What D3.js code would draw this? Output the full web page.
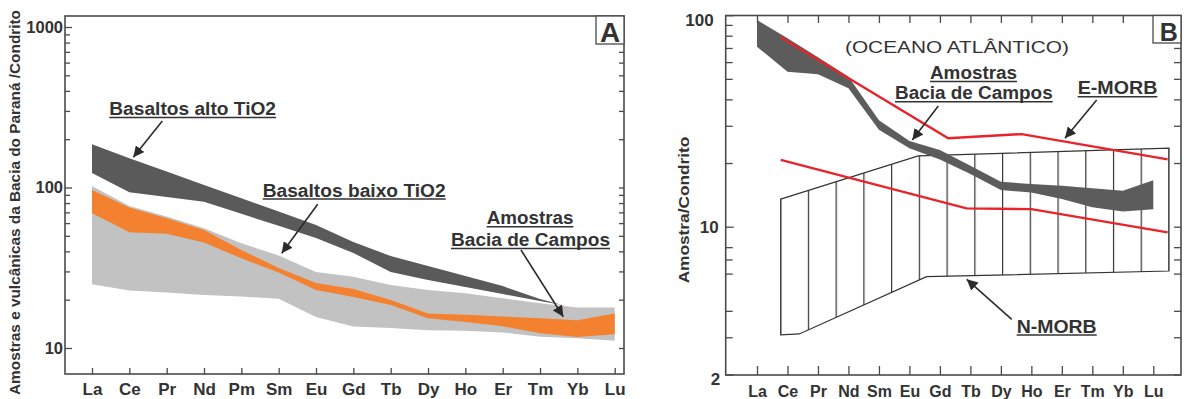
<!DOCTYPE html>
<html><head><meta charset="utf-8">
<script src="https://cdn.jsdelivr.net/npm/d3@7"></script>
<style>
body{margin:0;background:#fff}
svg{display:block}
text{font-family:"Liberation Sans",Arial,Helvetica,sans-serif;fill:#333}
</style></head>
<body><svg id="chart" width="1187" height="399"></svg>
<script>
// ---------------- DATA ----------------
const reeA = ["La","Ce","Pr","Nd","Pm","Sm","Eu","Gd","Tb","Dy","Ho","Er","Tm","Yb","Lu"];
const reeB = ["La","Ce","Pr","Nd","Sm","Eu","Gd","Tb","Dy","Ho","Er","Tm","Yb","Lu"];

const yMajorA = [10,100,1000];
const yMinorA = [20,30,40,50,60,70,80,90,200,300,400,500,600,700,800,900];
const yMajorB = [2,10,100];
const yMinorB = [3,4,6,7,8,20,30,40,50,60,70,80,90];

// Panel A – Basaltos baixo TiO2 (light grey field), values per reeA
const baixoTop    = [102,76.7,66,55.7,44.9,37.7,29.8,27.8,24.7,23.0,21.9,20.4,19.0,17.9,17.9];
const baixoBottom = [25.0,22.8,22.2,21.4,20.9,20.3,15.6,13.6,13.3,12.9,12.8,12.5,11.75,11.5,11.1];
// Panel A – Amostras Bacia de Campos (orange field)
const camposATop    = [96.4,75.0,64.3,54.3,40.8,31.5,25.4,23.3,19.9,16.4,16.1,15.7,15.3,14.9,16.4];
const camposABottom = [69.0,52.6,51.5,45.4,36.2,29.5,23.0,20.8,18.5,15.3,14.5,13.65,12.35,11.7,12.2];
// Panel A – Basaltos alto TiO2 (dark field), La..Tm, closing at a tip between Tm and Yb
const altoTop    = [185.8,152,125.6,103.7,85.7,70.8,58.4,45.7,37.4,32.4,28.1,24.3,20.2];
const altoBottom = [123,93.3,87.3,81.6,68.5,57.7,48.4,39.1,29.8,26.5,24.0,21.7,19.6];
const altoTip = [12.6, 18.5];

// Panel B – Amostras Bacia de Campos (dark field), values per reeB
const camposBTop    = [94.9,77.8,63.2,51.2,31.9,25.4,23.05,19.4,16.3,15.9,15.6,15.2,14.8,16.6];
const camposBBottom = [71.0,54.0,52.6,45.1,28.7,23.5,20.8,17.75,14.9,14.5,13.5,12.35,11.8,12.1];

// Panel B – MORB references: [position on 15-REE scale (La=0 … Lu=14), value]
const eMorb = [[0,78.6],[6.04,26.2],[8.69,27.4],[13.95,20.8]];
const nMorbLine = [[0,20.7],[6.7,12.2],[9.04,12.1],[13.95,9.4]];
const nMorbFieldTop = [[0,13.5],[4.96,21.6],[14,23.5]];
const nMorbFieldBottom = [[0,3.08],[0.67,3.11],[5.26,5.8],[14,6.17]];

// ---------------- DRAW ----------------
const svg = d3.select("#chart");
const frameColor = "#4a4a4a";
const textColor = "#333";

const defs = svg.append("defs");
defs.append("marker").attr("id","arrow").attr("viewBox","0 0 10 10")
  .attr("refX",10).attr("refY",5).attr("markerWidth",11).attr("markerHeight",11)
  .attr("markerUnits","userSpaceOnUse").attr("orient","auto")
  .append("path").attr("d","M0,0 L10,5 L0,10 Z").attr("fill","#2b2b2b");

function label(g, txt, x, y, size, width, opts={}) {
  const t = g.append("text").attr("x",x).attr("y",y)
    .attr("font-size",size).attr("font-weight",opts.normal?"normal":"bold").text(txt);
  if (width) t.attr("textLength",width).attr("lengthAdjust","spacingAndGlyphs");
  if (opts.underline) {
    g.append("line").attr("x1",x).attr("x2",x+width)
      .attr("y1",y+2.4).attr("y2",y+2.4).attr("stroke",textColor).attr("stroke-width",1.5);
  }
  return t;
}
function arrow(g, x1,y1,x2,y2){
  g.append("line").attr("x1",x1).attr("y1",y1).attr("x2",x2).attr("y2",y2)
    .attr("stroke","#2b2b2b").attr("stroke-width",1.6).attr("marker-end","url(#arrow)");
}

// ===== Panel A =====
const A = {l:65, r:624, t:16, b:374};
const xA = d3.scaleLinear().domain([0,14]).range([92,614.7]);
const yA = d3.scaleLog().domain([10,1000]).range([348,27]);
const gA = svg.append("g");

const areaA = d3.area().x((d,i)=>xA(i)).y0(d=>yA(d[0])).y1(d=>yA(d[1]));
gA.append("path").attr("d",areaA(baixoTop.map((v,i)=>[baixoBottom[i],v]))).attr("fill","#c2c2c2");
gA.append("path").attr("d",areaA(camposATop.map((v,i)=>[camposABottom[i],v]))).attr("fill","#f3812f");
const altoPoly = altoTop.map((v,i)=>[i,v]).concat([altoTip]).concat(altoBottom.map((v,i)=>[i,v]).reverse());
const lineA = d3.line().x(d=>xA(d[0])).y(d=>yA(d[1]));
gA.append("path").attr("d",lineA(altoPoly)+"Z").attr("fill","#5a5a5a");

// axes A
const axA = gA.append("g").attr("transform",`translate(0,${A.b})`)
  .call(d3.axisBottom(xA).tickValues(d3.range(15)).tickFormat(i=>reeA[i]).tickSize(-6).tickPadding(9));
axA.selectAll("text").attr("font-size",17).attr("font-weight","bold").attr("font-family",null).attr("fill",textColor);
const ayA = gA.append("g").attr("transform",`translate(${A.l},0)`)
  .call(d3.axisLeft(yA).tickValues(yMajorA).tickFormat(d3.format("d")).tickSize(-7).tickPadding(2));
ayA.selectAll("text").attr("font-size",16.5).attr("font-weight","bold").attr("font-family",null).attr("fill",textColor);
gA.append("g").attr("transform",`translate(${A.l},0)`)
  .call(d3.axisLeft(yA).tickValues(yMinorA).tickFormat("").tickSize(-5));
gA.append("g").attr("transform",`translate(${A.r},0)`)
  .call(d3.axisRight(yA).tickValues(yMajorA.concat(yMinorA)).tickFormat("").tickSize(-5));
gA.selectAll(".domain").remove();
gA.selectAll(".tick line").attr("stroke",frameColor).attr("stroke-width",1.3);
gA.append("rect").attr("x",A.l).attr("y",A.t).attr("width",A.r-A.l).attr("height",A.b-A.t)
  .attr("fill","none").attr("stroke",frameColor).attr("stroke-width",1.6);
gA.append("rect").attr("x",596).attr("y",A.t).attr("width",A.r-596).attr("height",28)
  .attr("fill","#fff").attr("stroke",frameColor).attr("stroke-width",1.3);
label(gA,"A",610,41.5,28,null).attr("text-anchor","middle");

label(gA,"Basaltos alto TiO2",109.3,115,18,166.7,{underline:true});
label(gA,"Basaltos baixo TiO2",262.7,196.7,18,183,{underline:true});
label(gA,"Amostras",486.7,224.3,18,86.7,{underline:true});
label(gA,"Bacia de Campos",451,246,18,159,{underline:true});
arrow(gA,162.3,121,133.3,157.3);
arrow(gA,317.7,204.3,281.7,253.3);
arrow(gA,521,250,563.3,316.7);

svg.append("text").attr("transform","translate(20,202.5) rotate(-90)")
  .attr("text-anchor","middle").attr("font-size",14.5).attr("font-weight","bold")
  .attr("textLength",385).attr("lengthAdjust","spacingAndGlyphs")
  .text("Amostras e vulcânicas da Bacia do Paraná /Condrito");

// ===== Panel B =====
const B = {l:725.7, r:1181, t:15.5, b:375};
const xB = d3.scaleLinear().domain([0,13]).range([757,1153.3]);
const xM = d3.scaleLinear().domain([0,14]).range([780.7,1169]);
const yB = d3.scaleLog().domain([2,100]).range([374.5,15.2]);
const gB = svg.append("g");

// hatched N-MORB field
const step = xM(1)-xM(0);
const pat = defs.append("pattern").attr("id","hatch").attr("patternUnits","userSpaceOnUse")
  .attr("x",xM(0)-0.6).attr("y",0).attr("width",step).attr("height",10);
pat.append("rect").attr("x",0).attr("y",0).attr("width",1.2).attr("height",10).attr("fill","#333");
const lineM = d3.line().x(d=>xM(d[0])).y(d=>yB(d[1]));
const fieldPoly = nMorbFieldTop.concat(nMorbFieldBottom.slice().reverse());
gB.append("path").attr("d",lineM(fieldPoly)+"Z").attr("fill","url(#hatch)")
  .attr("stroke","#333").attr("stroke-width",1.2);

// samples band
const areaB = d3.area().x((d,i)=>xB(i)).y0(d=>yB(d[0])).y1(d=>yB(d[1]));
gB.append("path").attr("d",areaB(camposBTop.map((v,i)=>[camposBBottom[i],v]))).attr("fill","#5c5c5c");

// red lines
gB.append("path").attr("d",lineM(eMorb)).attr("fill","none").attr("stroke","#e8232b").attr("stroke-width",2.4);
gB.append("path").attr("d",lineM(nMorbLine)).attr("fill","none").attr("stroke","#e8232b").attr("stroke-width",2.4);

// axes B
const axB = gB.append("g").attr("transform",`translate(0,${B.b})`)
  .call(d3.axisBottom(xB).tickValues(d3.range(14)).tickFormat(i=>reeB[i]).tickSize(-9).tickPadding(10.3));
axB.selectAll("text").attr("font-size",16).attr("font-weight","bold").attr("font-family",null).attr("fill",textColor);
gB.append("g").attr("transform",`translate(0,${B.t})`)
  .call(d3.axisTop(xB).tickValues(d3.range(14)).tickFormat("").tickSize(-7.5));
const ayB = gB.append("g").attr("transform",`translate(${B.l},0)`)
  .call(d3.axisLeft(yB).tickValues(yMajorB).tickFormat(d3.format("d")).tickSize(-8).tickPadding(7));
ayB.selectAll("text").attr("font-size",17).attr("font-weight","bold").attr("font-family",null).attr("fill",textColor);
ayB.selectAll(".tick").filter(d=>d===100).select("text").attr("dx",-5).attr("dy","0.62em");
ayB.selectAll(".tick").filter(d=>d===2).select("text").attr("dx",1.5).attr("dy","0.58em");
gB.append("g").attr("transform",`translate(${B.l},0)`)
  .call(d3.axisLeft(yB).tickValues(yMinorB).tickFormat("").tickSize(-7));
gB.append("g").attr("transform",`translate(${B.r},0)`)
  .call(d3.axisRight(yB).tickValues(yMajorB.concat(yMinorB)).tickFormat("").tickSize(-7));
gB.selectAll(".domain").remove();
gB.selectAll(".tick line").attr("stroke",frameColor).attr("stroke-width",1.3);
gB.append("rect").attr("x",B.l).attr("y",B.t).attr("width",B.r-B.l).attr("height",B.b-B.t)
  .attr("fill","none").attr("stroke",frameColor).attr("stroke-width",1.6);
gB.append("rect").attr("x",1153).attr("y",B.t).attr("width",B.r-1153).attr("height",27.5)
  .attr("fill","#fff").attr("stroke",frameColor).attr("stroke-width",1.3);
label(gB,"B",1168.7,40.8,25,null).attr("text-anchor","middle");

label(gB,"(OCEANO ATLÂNTICO)",845,52.7,16,224,{normal:true});
label(gB,"Amostras",930,79,18,87,{underline:true});
label(gB,"Bacia de Campos",895,99.3,18,157.7,{underline:true});
label(gB,"E-MORB",1077.7,94.3,18,79.7,{underline:true});
label(gB,"N-MORB",1016.7,332.7,18,80,{underline:true});
arrow(gB,938.3,106,912.3,140);
arrow(gB,1096.7,100,1065,138.3);
arrow(gB,1011.7,319.3,966.7,279.3);

svg.append("text").attr("transform","translate(689,210) rotate(-90)")
  .attr("text-anchor","middle").attr("font-size",14.5).attr("font-weight","bold")
  .attr("textLength",146.7).attr("lengthAdjust","spacingAndGlyphs")
  .text("Amostra/Condrito");
</script></body></html>
